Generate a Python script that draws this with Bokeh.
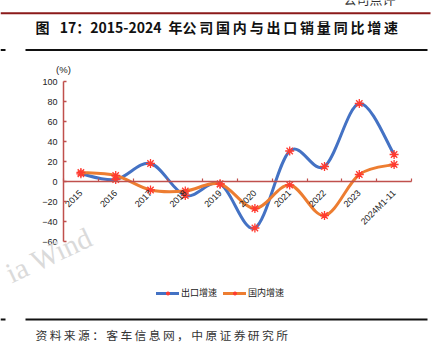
import math
from bokeh.plotting import figure
from bokeh.layouts import column
from bokeh.models import (Range1d, LinearAxis, FixedTicker, Legend, LegendItem,
                          Label, ColumnDataSource)
from bokeh.core.properties import value
from bokeh.embed import file_html
from bokeh.resources import INLINE

# ---------------- data ----------------
categories = ["2015", "2016", "2017", "2018", "2019", "2020", "2021", "2022", "2023", "2024M1-11"]
export_growth = [7.7, 2, 18, -14, -2.5, -46.5, 30.5, 15, 78, 27]
domestic_growth = [9, 6, -8.5, -9.5, -2.5, -27, -3.5, -34, 7, 17]
y_ticks = [-60, -40, -20, 0, 20, 40, 60, 80, 100]

TS = "\u2009"
title_text = "图\u2002 17：2015-2024\u2002年" + TS.join("公司国内与出口销量同比增速")
source_text = TS.join("资料来源：客车信息网，中原证券研究所")
series_names = ["出口增速", "国内增速"]

W = 446
CJK = "Noto Sans CJK SC"
AXIS_RED = "#C0504D"
BLUE = "#4472C4"
ORANGE = "#ED7D31"
MARK = "#FF3B30"


def bezier_source(ys):
    xs = [i + 0.5 for i in range(len(ys))]
    n = len(ys)
    d = dict(x0=[], y0=[], x1=[], y1=[], cx0=[], cy0=[], cx1=[], cy1=[])
    for i in range(n - 1):
        xm1, ym1 = (xs[i - 1], ys[i - 1]) if i > 0 else (xs[i], ys[i])
        xp2, yp2 = (xs[i + 2], ys[i + 2]) if i + 2 < n else (xs[i + 1], ys[i + 1])
        d["x0"].append(xs[i]); d["y0"].append(ys[i])
        d["x1"].append(xs[i + 1]); d["y1"].append(ys[i + 1])
        d["cx0"].append(xs[i] + (xs[i + 1] - xm1) / 6)
        d["cy0"].append(ys[i] + (ys[i + 1] - ym1) / 6)
        d["cx1"].append(xs[i + 1] - (xp2 - xs[i]) / 6)
        d["cy1"].append(ys[i + 1] - (yp2 - ys[i]) / 6)
    return ColumnDataSource(d)


def blank_fig(h):
    f = figure(width=W, height=h, x_range=Range1d(0, W), y_range=Range1d(h, 0),
               output_backend="svg", toolbar_location=None, min_border=0,
               x_axis_type=None, y_axis_type=None)
    f.grid.visible = False
    f.outline_line_color = None
    return f

# ---------------- header ----------------
H1 = 55
hdr = blank_fig(H1)
hdr.text(x=[343], y=[7], text=["公司点评"], text_font=value(CJK), text_font_size="13px",
         text_color="#333333", text_baseline="bottom")
hdr.segment(x0=[0], y0=[12.7], x1=[430], y1=[12.7], line_color="#8B1A1A", line_width=2)
hdr.text(x=[35], y=[26], text=[title_text], text_font=value(CJK),
         text_font_size="14px", text_font_style="bold", text_color="#111111",
         text_baseline="middle")
hdr.segment(x0=[25, 0], y0=[49.5, 49.5], x1=[427, 5], y1=[49.5, 49.5],
            line_color="#111111", line_width=2)

# ---------------- main chart ----------------
H2 = 255
PX = 34.8          # pixels per category
X0 = 63            # pixel of category axis start
Y0 = 181 - 55      # pixel (within this figure) of value 0
p = figure(width=W, height=H2,
           x_range=Range1d(-X0 / PX, (W - X0) / PX),
           y_range=Range1d(-(H2 - Y0), Y0),
           output_backend="svg", toolbar_location=None, min_border=0,
           x_axis_type=None, y_axis_type=None)
p.grid.visible = False
p.outline_line_color = None
p.background_fill_color = "white"
p.border_fill_color = "white"

# watermark
p.add_layout(Label(x=(7 - X0) / PX, y=-93, text="ia  Wind", text_font="Liberation Serif",
                   text_font_size="29px", text_color="#dadada", angle=0.44,
                   text_baseline="alphabetic"))

yax = LinearAxis(ticker=FixedTicker(ticks=y_ticks), fixed_location=0,
                 bounds=(y_ticks[0], y_ticks[-1]))
yax.axis_line_color = AXIS_RED
yax.axis_line_width = 1.5
yax.major_tick_line_color = AXIS_RED
yax.major_tick_line_width = 1.5
yax.major_tick_in = 3
yax.major_tick_out = 0
yax.minor_tick_line_color = None
yax.major_label_text_font = "Liberation Sans"
yax.major_label_text_font_size = "9px"
yax.major_label_text_color = "#222222"
yax.major_label_standoff = 6
p.add_layout(yax, "left")

xax_ticks = LinearAxis(ticker=FixedTicker(ticks=list(range(len(categories) + 1))),
                       fixed_location=0, bounds=(0, len(categories)))
xax_ticks.axis_line_color = AXIS_RED
xax_ticks.axis_line_width = 1.5
xax_ticks.major_tick_line_color = AXIS_RED
xax_ticks.major_tick_line_width = 1.2
xax_ticks.major_tick_in = 3
xax_ticks.major_tick_out = 0
xax_ticks.minor_tick_line_color = None
xax_ticks.major_label_text_font_size = "0px"
xax_ticks.major_label_text_alpha = 0
p.add_layout(xax_ticks, "below")

centers = [i + 0.5 for i in range(len(categories))]
xax_lab = LinearAxis(ticker=FixedTicker(ticks=centers), fixed_location=0)
xax_lab.axis_line_color = None
xax_lab.major_tick_line_color = None
xax_lab.minor_tick_line_color = None
xax_lab.major_label_overrides = {c: lab for c, lab in zip(centers, categories)}
xax_lab.major_label_orientation = math.pi / 4
xax_lab.major_label_text_font = "Liberation Sans"
xax_lab.major_label_text_font_size = "9px"
xax_lab.major_label_text_color = "#222222"
xax_lab.major_label_standoff = 4
p.add_layout(xax_lab, "below")

p.add_layout(Label(x=0, y=112, text="(%)", text_font="Liberation Sans",
                   text_font_size="9.5px", text_color="#222222", text_align="center",
                   text_baseline="middle"))

items = []
for ys, col, name in [(export_growth, BLUE, series_names[0]),
                      (domestic_growth, ORANGE, series_names[1])]:
    src = bezier_source(ys)
    r_line = p.bezier(x0="x0", y0="y0", x1="x1", y1="y1", cx0="cx0", cy0="cy0",
                      cx1="cx1", cy1="cy1", source=src, line_color=col,
                      line_width=3, line_cap="round")
    r_pts = p.scatter(centers, ys, marker="asterisk", size=9, line_color=MARK,
                      line_width=1.3)
    items.append(LegendItem(label=name, renderers=[r_line, r_pts]))

legend = Legend(items=items, orientation="horizontal", location=(156, 11),
                label_text_font=CJK, label_text_font_size="9px",
                label_text_color="#222222", glyph_width=23, glyph_height=10,
                label_standoff=2, spacing=6, padding=0, margin=0,
                border_line_color=None, background_fill_alpha=0)
p.add_layout(legend, "center")

# ---------------- footer ----------------
H3 = 356 - H1 - H2
ftr = blank_fig(H3)
ftr.segment(x0=[25, 0], y0=[9, 9], x1=[427, 5], y1=[9, 9], line_color="#111111",
            line_width=2)
ftr.text(x=[35], y=[24], text=[source_text], text_font=value(CJK), text_font_size="11.8px",
         text_color="#333333", text_baseline="middle")

layout = column(hdr, p, ftr, spacing=0)
open("out.html", "w").write(file_html(layout, INLINE))
